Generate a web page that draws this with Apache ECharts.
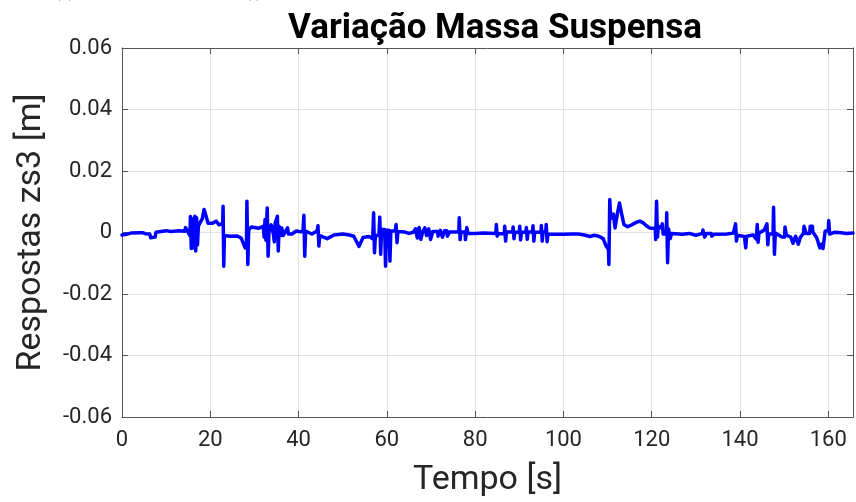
<!DOCTYPE html>
<html>
<head>
<meta charset="utf-8">
<script src="https://cdn.jsdelivr.net/npm/echarts@6/dist/echarts.min.js"></script>
<style>
  html, body { margin: 0; padding: 0; background: #fff; }
  #chart { width: 856px; height: 502px; }
</style>
</head>
<body>
<div id="chart"></div>
<script>
// tempo [s]
const tempo = [
  0, 1, 2, 4, 4.8, 5, 5.3, 6.3, 6.5, 7.5, 7.7, 10, 11, 13, 14.2, 14.4, 14.7, 14.9, 15.4, 15.5,
  15.7, 15.9, 16.1, 16.4, 16.5, 16.7, 16.9, 17.1, 17.3, 17.6, 18.2, 18.6, 19.0, 19.5, 20.5, 21.3,
  22, 22.8, 22.9, 23.05, 23.2, 24.5, 26, 27, 27.9, 28.2, 28.3, 28.5, 28.7, 29.3, 31, 32,
  32.2, 32.4, 32.6, 32.9, 33.1, 33.3, 33.8, 34.3, 34.5, 34.7, 35.2, 35.4, 35.6, 36.0, 36.2, 36.5,
  37.5, 37.7, 38.5, 39.5, 40.5, 41.0, 41.2, 41.4, 41.6, 43, 44.2, 44.4, 44.6, 44.8, 46.5, 48,
  50, 51.5, 52.5, 53.7, 54.6, 56, 56.8, 57.0, 57.2, 57.4, 58.2, 58.4, 58.6, 58.8, 59.5, 59.7,
  59.9, 60.5, 60.7, 60.9, 61.9, 62.1, 62.3, 62.5, 64, 65, 66, 66.4, 66.5, 66.8, 66.9, 67.2,
  67.3, 67.6, 67.7, 68.0, 68.1, 68.5, 68.6, 68.9, 69.0, 69.4, 69.5, 69.8, 69.9, 70.3, 70.4, 71.5,
  71.6, 72.0, 72.1, 72.5, 72.6, 73.0, 73.1, 73.6, 73.7, 74.1, 74.2, 76.3, 76.4, 76.6, 76.8, 77.7,
  77.8, 78.1, 78.4, 80, 82, 84.7, 84.8, 85.0, 85.2, 86.6, 86.7, 86.9, 87.1, 88.5, 88.6, 88.8,
  89.0, 90.0, 90.1, 90.3, 90.5, 91.5, 91.6, 91.8, 92.0, 93.0, 93.1, 93.3, 93.5, 94.9, 95.0, 95.2,
  95.4, 96.0, 96.1, 96.3, 96.5, 98, 100, 102, 103.3, 103.4, 103.7, 103.8, 105, 106, 107, 108,
  109, 109.7, 110.2, 110.3, 110.5, 110.7, 111.3, 111.7, 112.2, 112.7, 113.2, 113.7, 114.5, 115.5, 116.5, 117.3,
  118, 118.8, 119.5, 120.8, 120.9, 121.1, 121.3, 121.5, 122.2, 122.4, 122.6, 123.3, 123.4, 123.6, 123.8, 124.2,
  124.5, 127, 128.5, 130, 131.5, 131.6, 131.9, 132.0, 132.3, 132.4, 133.5, 133.6, 134.0, 134.1, 137, 138.5,
  138.9, 139.0, 139.2, 139.4, 141, 141.3, 141.5, 143, 143.7, 143.9, 144.1, 144.3, 145.5, 146.1, 146.3, 146.5,
  147.5, 147.6, 147.8, 148.0, 149.5, 150.1, 150.2, 150.5, 151.5, 152, 152.6, 153.2, 153.7, 154.4, 154.5, 154.9,
  155.0, 155.8, 155.9, 156.4, 156.5, 157.4, 158.1, 158.5, 158.8, 159.3, 160.0, 160.1, 160.3, 161.5, 163, 164,
  165.6
];
// resposta zs3 [m]
const zs3 = [
  -0.0008, -0.0006, -0.0002, -0.0001, -0.0001, 0.0003, -0.0004, -0.0005, -0.0017, -0.0015, 0.0001, 0.0006, 0.0003, 0.0006, 0.0004, 0.0016, 0.0016, 0.0002, -0.001, 0.0052,
  -0.0052, 0.0045, -0.005, -0.003, 0.0053, -0.006, 0.0048, -0.004, 0.002, 0.003, 0.0045, 0.0075, 0.0055, 0.003, 0.003, 0.0037,
  0.0025, 0.003, 0.0085, -0.011, -0.001, -0.0012, -0.0011, -0.0018, -0.005, -0.004, 0.0102, -0.0104, 0.0008, 0.0018, 0.0014, 0.002,
  -0.0015, 0.0042, -0.0025, 0.008, -0.0077, 0.0003, 0.0025, -0.0005, -0.003, 0.003, 0.0053, -0.006, 0.002, -0.001, 0.0015, -0.001,
  0.0015, -0.0005, -0.0005, 0.0005, 0.0002, 0.0005, 0.0056, -0.0077, 0.0005, -0.0005, 0.0005, 0.0022, -0.0044, -0.001, -0.002, -0.0008,
  -0.0005, -0.0008, -0.0012, -0.0045, -0.0016, -0.0013, -0.002, 0.0064, -0.0066, -0.001, -0.001, 0.005, -0.0071, 0.001, 0.001, -0.011,
  0.0007, 0.0007, -0.0093, 0.0005, 0.0005, 0.0026, -0.0033, 0.0003, 0.0002, -0.0003, 0.0001, 0.0001, 0.0012, 0.0012, -0.0018, -0.0018,
  0.0016, 0.0016, -0.0022, -0.0022, 0.0002, 0.0002, 0.0015, 0.0015, -0.001, -0.001, 0.0012, 0.0012, -0.0023, -0.0023, 0.0003, 0.0003,
  -0.0012, -0.0012, 0.0007, 0.0007, -0.0015, -0.0015, 0.0006, 0.0006, -0.0012, -0.0012, 0.0002, 0.0002, 0.0048, -0.0023, 0.0002, 0.0002,
  -0.0023, 0.0016, -0.0003, -0.0003, -0.0002, -0.0003, 0.0026, -0.0012, -0.0004, -0.0004, 0.002, -0.0028, 0.0002, 0.0002, 0.0018, -0.002,
  0.0001, 0.0001, 0.002, -0.0024, 0.0001, 0.0001, 0.0016, -0.0022, 0.0002, 0.0002, 0.0022, -0.0028, 0.0001, 0.0001, 0.0023, -0.0028,
  0.0002, 0.0002, 0.0026, -0.003, -0.0005, -0.0006, -0.0006, -0.0005, -0.0005, -0.0001, -0.0001, -0.0006, -0.0009, -0.0013, -0.0009, -0.0012,
  -0.002, -0.0045, -0.0055, -0.0104, 0.0107, 0.0045, 0.006, 0.0015, 0.006, 0.0096, 0.006, 0.0026, 0.0019, 0.0025, 0.0033, 0.0037,
  0.0032, 0.0022, 0.0015, 0.0013, -0.0023, 0.0102, -0.0015, 0.002, 0.0015, 0.0028, -0.0005, -0.0005, 0.0064, -0.0098, 0.0012, -0.002,
  -0.0003, -0.0006, -0.0003, -0.0009, -0.0003, 0.0008, 0.0008, -0.0015, -0.0015, -0.0003, -0.0003, -0.0012, -0.0012, -0.0006, -0.0005, -0.0002,
  -0.0002, 0.0028, -0.0028, -0.0009, -0.0013, -0.005, -0.0012, -0.0008, -0.0022, 0.0026, -0.0032, -0.0002, 0.0008, 0.0028, -0.004, -0.0005,
  -0.0005, 0.0082, -0.0071, -0.0002, -0.0015, -0.0015, 0.0018, -0.0008, -0.0015, -0.0035, -0.0012, -0.0038, -0.0015, -0.0003, 0.002, 0.002,
  -0.0003, -0.0003, 0.002, 0.002, 0.0002, -0.0018, -0.005, -0.0038, -0.0052, 0.0005, 0.0005, 0.0039, -0.0005, 0.0001, -0.0001, -0.0003,
  -0.0002
];
const xTicks = [0, 20, 40, 60, 80, 100, 120, 140, 160];
const yTicks = [-0.06, -0.04, -0.02, 0, 0.02, 0.04, 0.06];

const chart = echarts.init(document.getElementById('chart'));
const font = 'Roboto, "Liberation Sans", sans-serif';
const frame = '#555555';
const gridLine = { show: true, lineStyle: { color: '#e3e3e3', width: 1 } };

const xBase = {
  type: 'value', min: 0, max: 165.6, interval: 20,
  axisLine: { show: true, onZero: false, lineStyle: { color: frame, width: 1 } },
  axisTick: { show: true, inside: true, length: 6, lineStyle: { color: frame } }
};
const yBase = {
  type: 'value', min: yTicks[0], max: yTicks[yTicks.length - 1], interval: 0.02,
  axisLine: { show: true, onZero: false, lineStyle: { color: frame, width: 1 } },
  axisTick: { show: true, inside: true, length: 6, lineStyle: { color: frame } }
};

chart.setOption({
  animation: false,
  backgroundColor: '#ffffff',
  title: {
    text: 'Variação Massa Suspensa',
    left: 490, top: 7, textAlign: 'center',
    textStyle: { fontFamily: font, fontSize: 35, fontWeight: 'bold', color: '#000' }
  },
  graphic: [{
    type: 'text', left: 55, top: -15,
    style: { text: '(c) Resultado Longitudinal (t)', fontFamily: font, fontSize: 16, fill: '#444' }
  }],
  grid: { left: 122, right: 1, top: 48, bottom: 84 },
  xAxis: [
    Object.assign({}, xBase, {
      position: 'bottom',
      splitLine: gridLine,
      name: 'Tempo [s]', nameLocation: 'middle', nameGap: 46,
      nameTextStyle: { fontFamily: font, fontSize: 34, color: '#262626' },
      axisLabel: { fontFamily: font, fontSize: 22, color: '#262626', margin: 12,
        formatter: v => xTicks.includes(v) ? String(v) : '' }
    }),
    Object.assign({}, xBase, { position: 'top', splitLine: { show: false }, axisLabel: { show: false } })
  ],
  yAxis: [
    Object.assign({}, yBase, {
      position: 'left',
      splitLine: gridLine,
      name: 'Respostas zs3 [m]', nameLocation: 'middle', nameGap: 74,
      nameTextStyle: { fontFamily: font, fontSize: 34, color: '#262626' },
      axisLabel: { fontFamily: font, fontSize: 22, color: '#262626', margin: 10,
        formatter: v => Math.abs(v) < 1e-9 ? '0' : v.toFixed(2) }
    }),
    Object.assign({}, yBase, { position: 'right', splitLine: { show: false }, axisLabel: { show: false } })
  ],
  series: [{
    type: 'line',
    xAxisIndex: 0, yAxisIndex: 0,
    data: tempo.map((t, i) => [t, zs3[i]]),
    showSymbol: false,
    lineStyle: { color: '#0000ff', width: 3.5, join: 'round', cap: 'round' },
    itemStyle: { color: '#0000ff' }
  }]
});
</script>
</body>
</html>
